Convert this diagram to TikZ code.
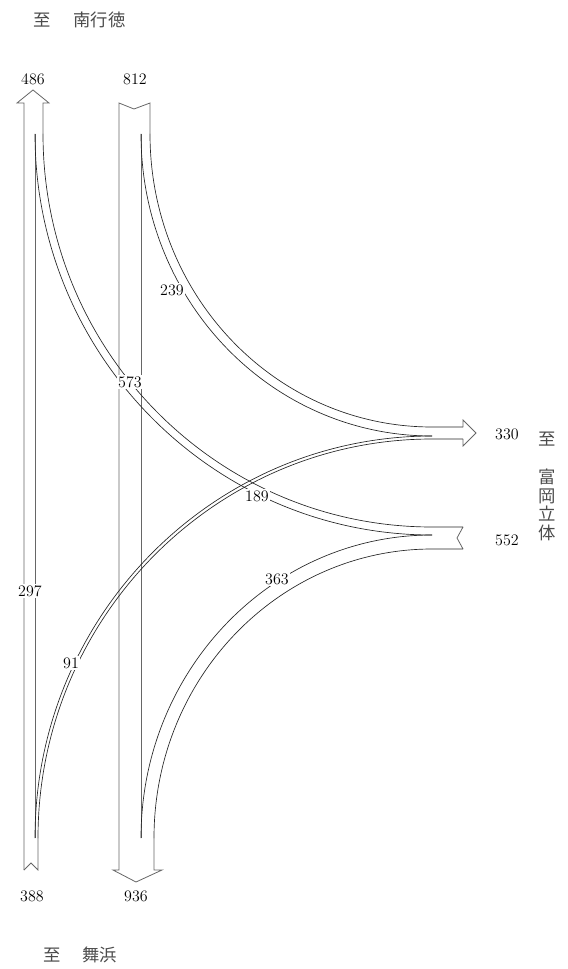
\documentclass[tikz,border=0pt]{standalone}
\usepackage{fontspec}
\newfontfamily\jpfont{Noto Sans CJK JP}
\usetikzlibrary{calc}

\begin{document}
\begin{tikzpicture}[
  x=0.75pt, y=-0.75pt,
  outline/.style={draw=black!60, line width=0.6pt},
  flow/.style={draw=black!85, line width=0.5pt},
  vol/.style={fill=white, inner sep=1pt, font=\fontsize{12}{12}\selectfont},
  place/.style={inner sep=0pt, text=black!70, font=\jpfont\fontsize{13}{13.9}\selectfont, align=center}
]
\useasboundingbox (0,0) rectangle (567,969);

% Split points (where a turning band leaves the through band)
\coordinate (lt) at (35,134);   % left column, top
\coordinate (lb) at (35,838);   % left column, bottom
\coordinate (rt) at (141,134);  % right column, top
\coordinate (rb) at (141,838);  % right column, bottom
\coordinate (eu) at (432,436);  % east, outgoing 330
\coordinate (ed) at (432,535);  % east, incoming 552

% Left column: 388 in from below, 486 out to the top
\draw[outline] (24,870) -- (24,103) -- (17,103) -- (33,90) -- (49,103) -- (43,103) -- (43,134);
\draw[outline] (24,870) -- (31,863) -- (38,870) -- (38,838);
\draw[outline] (lt) -- (lb);

% Right column: 812 in from the top, 936 out to the bottom
\draw[outline] (154,838) -- (154,870) -- (162,870) -- (136,882) -- (113,870) -- (119,870) -- (119,103) -- (134,109) -- (150,103) -- (150,134);
\draw[outline] (rt) -- (rb);

% East side: 330 out, 552 in
\draw[outline] (463,427) -- (463,420) -- (476,433) -- (463,446) -- (463,439);
\draw[outline] (463,527) -- (457,538) -- (463,549);

% Turning bands
% 239: right column top -> east 330
\draw[flow] (rt) .. controls +(0,167) and +(-161,0) .. (eu);
\draw[flow] (150,134) .. controls +(0,162) and +(-156,0) .. (432,427) -- (463,427);
% 91: left column bottom -> east 330
\draw[flow] (lb) .. controls +(0,-222) and +(-219,0) .. (eu);
\draw[flow] (38,838) .. controls +(0,-220) and +(-217,0) .. (432,439) -- (463,439);
% 189: east 552 -> left column top
\draw[flow] (lt) .. controls +(0,221) and +(-219,0) .. (ed);
\draw[flow] (43,134) .. controls +(0,217) and +(-215,0) .. (432,527) -- (463,527);
% 363: east 552 -> right column bottom
\draw[flow] (rb) .. controls +(0,-167) and +(-161,0) .. (ed);
\draw[flow] (154,838) .. controls +(0,-160) and +(-153,0) .. (432,549) -- (463,549);

% Volumes at the ends
\node[vol] (v486) at (33,79) {486};
\node[vol] (v812) at (135,79) {812};
\node[vol] (v388) at (32,896) {388};
\node[vol] (v936) at (136,896) {936};
\node[vol] (v330) at (507,434) {330};
\node[vol] (v552) at (507,540) {552};

% Volumes on the bands
\node[vol] (f239) at (172,290) {239};
\node[vol] (f573) at (130,382) {573};
\node[vol] (f189) at (257,496) {189};
\node[vol] (f363) at (277,579) {363};
\node[vol] (f297) at (30,591) {297};
\node[vol] (f91) at (71,663) {91};

% Destinations
\node[place] (to1) at (42.5,20) {至};
\node[place] (nam) at (99.5,20) {南行徳};
\node[place] (to2) at (52,955) {至};
\node[place] (mai) at (99.5,955) {舞浜};
\node[place] (to3) at (547.5,439) {至};
\node[place] (tom) at (547.5,505) {富\\岡\\立\\体};

\end{tikzpicture}
\end{document}
